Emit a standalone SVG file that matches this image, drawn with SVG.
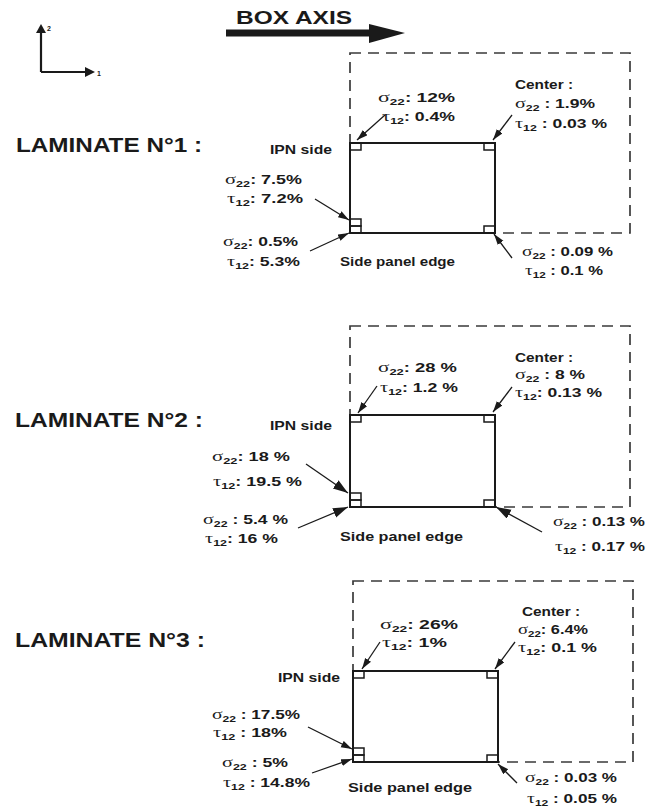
<svg xmlns="http://www.w3.org/2000/svg" width="655" height="810" viewBox="0 0 655 810">
<defs>
<style>
.t{font-family:"Liberation Sans",Arial,sans-serif;font-weight:bold;font-size:13.5px;fill:#1a1a1a}
.title{font-size:21px}
.small{font-size:12px}
.g{font-family:"Liberation Serif","DejaVu Serif",serif;font-weight:normal;font-size:15.5px}
.s{font-size:9.5px}
.box{fill:none;stroke:#1a1a1a;stroke-width:2}
.dash{fill:none;stroke:#3a3a3a;stroke-width:1.7;stroke-dasharray:11 7}
.sq{fill:none;stroke:#1a1a1a;stroke-width:1.5}
.ar{stroke:#1a1a1a;stroke-width:1.3;fill:none;marker-end:url(#ah)}
.arb{stroke:#1a1a1a;stroke-width:1.3;fill:none;marker-end:url(#ahb)}
</style>
<marker id="ah" markerUnits="userSpaceOnUse" markerWidth="12" markerHeight="8" refX="11" refY="3.5" orient="auto"><path d="M0,0 L11,3.5 L0,7 z" fill="#1a1a1a"/></marker>
<marker id="ahb" markerUnits="userSpaceOnUse" markerWidth="16" markerHeight="11" refX="15" refY="5" orient="auto"><path d="M0,0 L15,5 L0,10 z" fill="#1a1a1a"/></marker>
</defs>
<rect width="655" height="810" fill="#fff"/>

<g id="axes">
<path d="M41,72 V32 M41,72 H86" stroke="#1a1a1a" stroke-width="2.2" fill="none"/>
<polygon points="36,33 46,33 41,24" fill="#1a1a1a"/>
<polygon points="85,67 85,77 95,72" fill="#1a1a1a"/>
<text class="t" x="47" y="31" style="font-size:7px">2</text>
<text class="t" x="97" y="76" style="font-size:7px">1</text>
</g>

<g id="box-axis">
<rect x="226" y="29.5" width="145" height="7" fill="#1a1a1a"/>
<polygon points="369,24 405,33 369,43" fill="#1a1a1a"/>
<text class="t" x="236" y="24" style="font-size:19px" textLength="116" lengthAdjust="spacingAndGlyphs">BOX AXIS</text>
</g>

<!-- Laminate 1 -->
<g id="lam1-title"><text class="t title" x="16" y="152" textLength="186" lengthAdjust="spacingAndGlyphs">LAMINATE N°1 :</text></g>
<g id="lam1-box">
<rect class="dash" x="350" y="53" width="280" height="180"/>
<rect class="box" x="350" y="143" width="145" height="90"/>
<rect class="sq" x="350" y="143" width="11" height="7"/>
<rect class="sq" x="484" y="143" width="11" height="7"/>
<rect class="sq" x="484" y="226" width="11" height="7"/>
<rect class="sq" x="350" y="219" width="11" height="7"/>
<rect class="sq" x="350" y="226" width="11" height="7"/>
</g>
<g id="lam1-tl"><text class="t" x="378" y="102" textLength="77" lengthAdjust="spacingAndGlyphs"><tspan class="g">σ</tspan><tspan class="s" dy="2.5">22</tspan><tspan dy="-2.5">: 12%</tspan></text>
<text class="t" x="382" y="121" textLength="73" lengthAdjust="spacingAndGlyphs"><tspan class="g">τ</tspan><tspan class="s" dy="2.5">12</tspan><tspan dy="-2.5">: 0.4%</tspan></text></g>
<g id="lam1-center"><text class="t" x="515" y="89" textLength="58" lengthAdjust="spacingAndGlyphs">Center :</text>
<text class="t" x="515" y="108" textLength="80" lengthAdjust="spacingAndGlyphs"><tspan class="g">σ</tspan><tspan class="s" dy="2.5">22</tspan><tspan dy="-2.5"> : 1.9%</tspan></text>
<text class="t" x="515" y="128" textLength="92" lengthAdjust="spacingAndGlyphs"><tspan class="g">τ</tspan><tspan class="s" dy="2.5">12</tspan><tspan dy="-2.5"> : 0.03 %</tspan></text></g>
<g id="lam1-ipn"><text class="t small" x="270" y="154" textLength="62" lengthAdjust="spacingAndGlyphs">IPN side</text></g>
<g id="lam1-left"><text class="t" x="225" y="184" textLength="77" lengthAdjust="spacingAndGlyphs"><tspan class="g">σ</tspan><tspan class="s" dy="2.5">22</tspan><tspan dy="-2.5">: 7.5%</tspan></text>
<text class="t" x="227" y="203" textLength="76" lengthAdjust="spacingAndGlyphs"><tspan class="g">τ</tspan><tspan class="s" dy="2.5">12</tspan><tspan dy="-2.5">: 7.2%</tspan></text></g>
<g id="lam1-bl"><text class="t" x="223" y="246" textLength="75" lengthAdjust="spacingAndGlyphs"><tspan class="g">σ</tspan><tspan class="s" dy="2.5">22</tspan><tspan dy="-2.5">: 0.5%</tspan></text>
<text class="t" x="227" y="266" textLength="73" lengthAdjust="spacingAndGlyphs"><tspan class="g">τ</tspan><tspan class="s" dy="2.5">12</tspan><tspan dy="-2.5">: 5.3%</tspan></text></g>
<g id="lam1-edge"><text class="t small" x="340" y="266" textLength="115" lengthAdjust="spacingAndGlyphs">Side panel edge</text></g>
<g id="lam1-br"><text class="t" x="522" y="256" textLength="91" lengthAdjust="spacingAndGlyphs"><tspan class="g">σ</tspan><tspan class="s" dy="2.5">22</tspan><tspan dy="-2.5"> : 0.09 %</tspan></text>
<text class="t" x="525" y="275" textLength="78" lengthAdjust="spacingAndGlyphs"><tspan class="g">τ</tspan><tspan class="s" dy="2.5">12</tspan><tspan dy="-2.5"> : 0.1 %</tspan></text></g>

<!-- Laminate 2 -->
<g id="lam2-title"><text class="t title" x="15" y="427" textLength="188" lengthAdjust="spacingAndGlyphs">LAMINATE N°2 :</text></g>
<g id="lam2-box">
<rect class="dash" x="350" y="326" width="280" height="181"/>
<rect class="box" x="350" y="415" width="145" height="92"/>
<rect class="sq" x="350" y="415" width="11" height="7"/>
<rect class="sq" x="484" y="415" width="11" height="7"/>
<rect class="sq" x="484" y="500" width="11" height="7"/>
<rect class="sq" x="350" y="493" width="11" height="7"/>
<rect class="sq" x="350" y="500" width="11" height="7"/>
</g>
<g id="lam2-tl"><text class="t" x="378" y="372" textLength="79" lengthAdjust="spacingAndGlyphs"><tspan class="g">σ</tspan><tspan class="s" dy="2.5">22</tspan><tspan dy="-2.5">: 28 %</tspan></text>
<text class="t" x="380" y="392" textLength="78" lengthAdjust="spacingAndGlyphs"><tspan class="g">τ</tspan><tspan class="s" dy="2.5">12</tspan><tspan dy="-2.5">: 1.2 %</tspan></text></g>
<g id="lam2-center"><text class="t" x="515" y="362" textLength="58" lengthAdjust="spacingAndGlyphs">Center :</text>
<text class="t" x="515" y="379" textLength="70" lengthAdjust="spacingAndGlyphs"><tspan class="g">σ</tspan><tspan class="s" dy="2.5">22</tspan><tspan dy="-2.5"> : 8 %</tspan></text>
<text class="t" x="515" y="397" textLength="87" lengthAdjust="spacingAndGlyphs"><tspan class="g">τ</tspan><tspan class="s" dy="2.5">12</tspan><tspan dy="-2.5">: 0.13 %</tspan></text></g>
<g id="lam2-ipn"><text class="t small" x="270" y="430" textLength="62" lengthAdjust="spacingAndGlyphs">IPN side</text></g>
<g id="lam2-left"><text class="t" x="212" y="461" textLength="78" lengthAdjust="spacingAndGlyphs"><tspan class="g">σ</tspan><tspan class="s" dy="2.5">22</tspan><tspan dy="-2.5">: 18 %</tspan></text>
<text class="t" x="213" y="486" textLength="89" lengthAdjust="spacingAndGlyphs"><tspan class="g">τ</tspan><tspan class="s" dy="2.5">12</tspan><tspan dy="-2.5">: 19.5 %</tspan></text></g>
<g id="lam2-bl"><text class="t" x="203" y="524" textLength="85" lengthAdjust="spacingAndGlyphs"><tspan class="g">σ</tspan><tspan class="s" dy="2.5">22</tspan><tspan dy="-2.5"> : 5.4 %</tspan></text>
<text class="t" x="205" y="543" textLength="73" lengthAdjust="spacingAndGlyphs"><tspan class="g">τ</tspan><tspan class="s" dy="2.5">12</tspan><tspan dy="-2.5">: 16 %</tspan></text></g>
<g id="lam2-edge"><text class="t small" x="340" y="541" textLength="123" lengthAdjust="spacingAndGlyphs">Side panel edge</text></g>
<g id="lam2-br"><text class="t" x="553" y="526" textLength="92" lengthAdjust="spacingAndGlyphs"><tspan class="g">σ</tspan><tspan class="s" dy="2.5">22</tspan><tspan dy="-2.5"> : 0.13 %</tspan></text>
<text class="t" x="555" y="551" textLength="90" lengthAdjust="spacingAndGlyphs"><tspan class="g">τ</tspan><tspan class="s" dy="2.5">12</tspan><tspan dy="-2.5"> : 0.17 %</tspan></text></g>

<!-- Laminate 3 -->
<g id="lam3-title"><text class="t title" x="15" y="647" textLength="190" lengthAdjust="spacingAndGlyphs">LAMINATE N°3 :</text></g>
<g id="lam3-box">
<rect class="dash" x="353" y="581" width="280" height="181"/>
<rect class="box" x="353" y="671" width="145" height="91"/>
<rect class="sq" x="353" y="671" width="11" height="7"/>
<rect class="sq" x="487" y="671" width="11" height="7"/>
<rect class="sq" x="487" y="755" width="11" height="7"/>
<rect class="sq" x="353" y="748" width="11" height="7"/>
<rect class="sq" x="353" y="755" width="11" height="7"/>
</g>
<g id="lam3-tl"><text class="t" x="380" y="629" textLength="78" lengthAdjust="spacingAndGlyphs"><tspan class="g">σ</tspan><tspan class="s" dy="2.5">22</tspan><tspan dy="-2.5">: 26%</tspan></text>
<text class="t" x="382" y="647" textLength="65" lengthAdjust="spacingAndGlyphs"><tspan class="g">τ</tspan><tspan class="s" dy="2.5">12</tspan><tspan dy="-2.5">: 1%</tspan></text></g>
<g id="lam3-center"><text class="t" x="522" y="616" textLength="58" lengthAdjust="spacingAndGlyphs">Center :</text>
<text class="t" x="518" y="634" textLength="70" lengthAdjust="spacingAndGlyphs"><tspan class="g">σ</tspan><tspan class="s" dy="2.5">22</tspan><tspan dy="-2.5">: 6.4%</tspan></text>
<text class="t" x="518" y="652" textLength="79" lengthAdjust="spacingAndGlyphs"><tspan class="g">τ</tspan><tspan class="s" dy="2.5">12</tspan><tspan dy="-2.5">: 0.1 %</tspan></text></g>
<g id="lam3-ipn"><text class="t small" x="278" y="682" textLength="62" lengthAdjust="spacingAndGlyphs">IPN side</text></g>
<g id="lam3-left"><text class="t" x="212" y="719" textLength="88" lengthAdjust="spacingAndGlyphs"><tspan class="g">σ</tspan><tspan class="s" dy="2.5">22</tspan><tspan dy="-2.5"> : 17.5%</tspan></text>
<text class="t" x="213" y="737" textLength="74" lengthAdjust="spacingAndGlyphs"><tspan class="g">τ</tspan><tspan class="s" dy="2.5">12</tspan><tspan dy="-2.5"> : 18%</tspan></text></g>
<g id="lam3-bl"><text class="t" x="222" y="767" textLength="66" lengthAdjust="spacingAndGlyphs"><tspan class="g">σ</tspan><tspan class="s" dy="2.5">22</tspan><tspan dy="-2.5"> : 5%</tspan></text>
<text class="t" x="223" y="787" textLength="87" lengthAdjust="spacingAndGlyphs"><tspan class="g">τ</tspan><tspan class="s" dy="2.5">12</tspan><tspan dy="-2.5"> : 14.8%</tspan></text></g>
<g id="lam3-edge"><text class="t small" x="348" y="792" textLength="124" lengthAdjust="spacingAndGlyphs">Side panel edge</text></g>
<g id="lam3-br"><text class="t" x="525" y="782" textLength="92" lengthAdjust="spacingAndGlyphs"><tspan class="g">σ</tspan><tspan class="s" dy="2.5">22</tspan><tspan dy="-2.5"> : 0.03 %</tspan></text>
<text class="t" x="527" y="803" textLength="90" lengthAdjust="spacingAndGlyphs"><tspan class="g">τ</tspan><tspan class="s" dy="2.5">12</tspan><tspan dy="-2.5"> : 0.05 %</tspan></text></g>

<g id="connectors">
<line class="ar" x1="385" y1="115" x2="357" y2="140"/>
<line class="ar" x1="512" y1="115" x2="493" y2="140"/>
<line class="ar" x1="315" y1="199" x2="349" y2="220"/>
<line class="ar" x1="310" y1="251" x2="349" y2="233"/>
<line class="ar" x1="512" y1="258" x2="494" y2="234"/>

<line class="ar" x1="377" y1="386" x2="358" y2="413"/>
<line class="ar" x1="512" y1="387" x2="493" y2="412"/>
<line class="arb" x1="306" y1="464" x2="348" y2="493"/>
<line class="arb" x1="298" y1="528" x2="348" y2="507"/>
<line class="arb" x1="542" y1="532" x2="496" y2="507"/>

<line class="ar" x1="380" y1="642" x2="362" y2="669"/>
<line class="ar" x1="515" y1="642" x2="495" y2="669"/>
<line class="ar" x1="308" y1="727" x2="352" y2="749"/>
<line class="ar" x1="312" y1="773" x2="352" y2="759"/>
<line class="ar" x1="517" y1="783" x2="498" y2="764"/>
</g>
</svg>
